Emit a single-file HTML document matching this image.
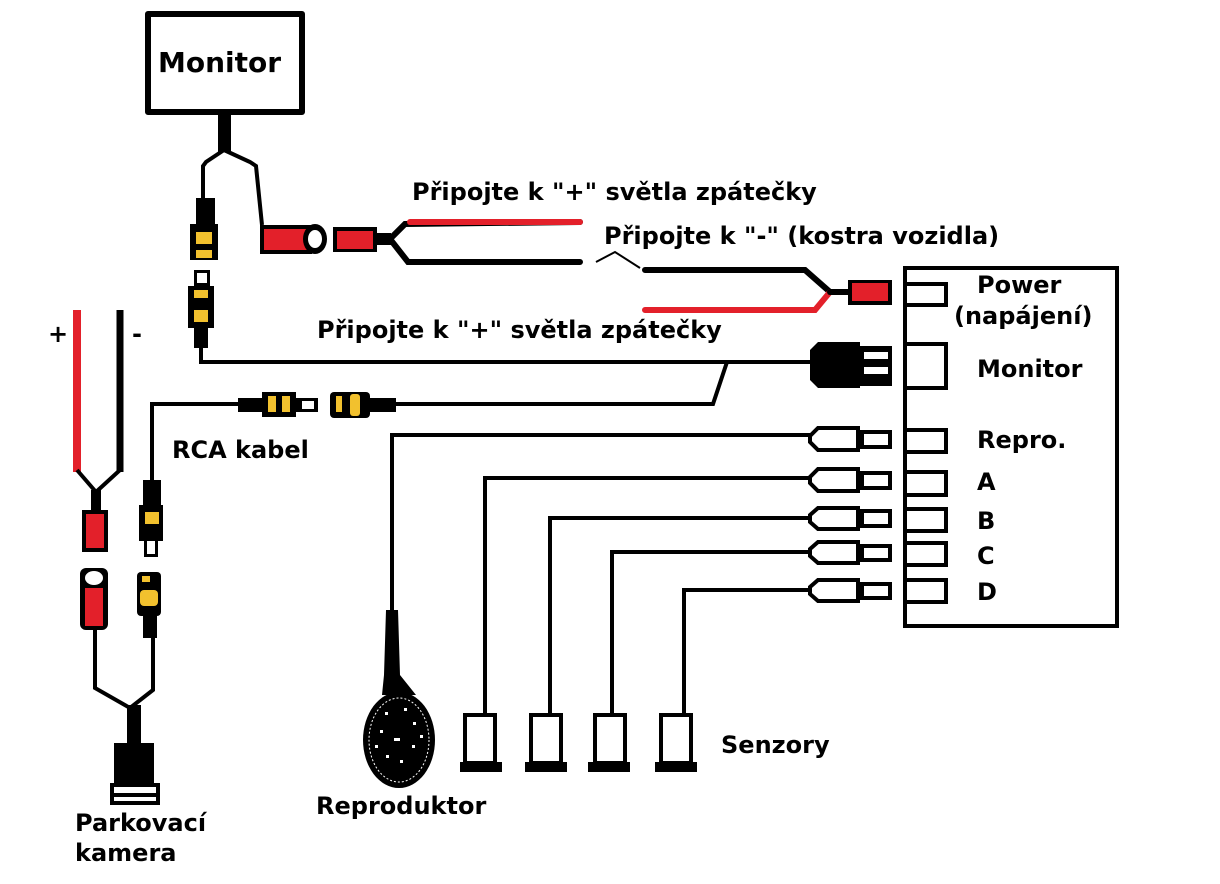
<!DOCTYPE html>
<html><head><meta charset="utf-8"><style>
html,body{margin:0;padding:0;background:#fff;}
svg{display:block;}
text{font-family:"DejaVu Sans","Liberation Sans",sans-serif;font-weight:bold;fill:#000;}
</style></head><body>
<svg width="1220" height="884" viewBox="0 0 1220 884" xmlns="http://www.w3.org/2000/svg">
<g fill="none" stroke="#000" stroke-width="4" stroke-linejoin="round">
<rect x="148" y="14" width="154" height="98" stroke-width="6"/>
</g>
<text x="158" y="72" font-size="28">Monitor</text>
<rect x="218" y="112" width="13" height="40" fill="#000"/>
<g fill="none" stroke="#000" stroke-width="4">
<polyline points="224,150 206,162 203,166 203,200"/>
<polyline points="224,150 250,162 256,166 262,225"/>
</g>
<rect x="196" y="198" width="19" height="26" fill="#000"/>
<rect x="190" y="224" width="28" height="36" fill="#000"/>
<rect x="196" y="232" width="16" height="12" fill="#f2c12e"/>
<rect x="196" y="250" width="16" height="8" fill="#f2c12e"/>
<rect x="194" y="270" width="16" height="16" fill="#000"/>
<rect x="197" y="273" width="10" height="10" fill="#fff"/>
<rect x="188" y="286" width="26" height="42" fill="#000"/>
<rect x="194" y="290" width="14" height="8" fill="#f2c12e"/>
<rect x="194" y="310" width="14" height="12" fill="#f2c12e"/>
<rect x="194" y="328" width="14" height="20" fill="#000"/>
<rect x="260" y="225" width="52" height="29" fill="#000"/>
<rect x="264" y="229" width="44" height="21" fill="#e3202a"/>
<ellipse cx="315" cy="239" rx="12" ry="15" fill="#000"/>
<ellipse cx="315" cy="239" rx="7" ry="9" fill="#fff"/>
<rect x="333" y="227" width="44" height="25" fill="#000"/>
<rect x="337" y="231" width="36" height="18" fill="#e3202a"/>
<rect x="377" y="233" width="14" height="12" fill="#000"/>
<g fill="none" stroke-width="6" stroke-linecap="round">
<polyline points="390,239 405,224 580,222" stroke="#000"/>
<line x1="410" y1="222" x2="580" y2="222" stroke="#e3202a"/>
<polyline points="390,239 408,262 580,262" stroke="#000"/>
<polyline points="645,270 805,270 830,292" stroke="#000"/>
<polyline points="645,310 815,310 830,292" stroke="#e3202a"/>
<line x1="830" y1="292" x2="850" y2="292" stroke="#000"/>
</g>
<rect x="848" y="280" width="44" height="25" fill="#000"/>
<rect x="852" y="283" width="36" height="18" fill="#e3202a"/>
<polyline points="596,262 615,252 640,268" fill="none" stroke="#000" stroke-width="2"/>
<text x="412" y="200" font-size="24">Připojte k "+" světla zpátečky</text>
<text x="604" y="244" font-size="24">Připojte k "-" (kostra vozidla)</text>
<text x="317" y="338" font-size="24">Připojte k "+" světla zpátečky</text>
<g fill="none" stroke="#000" stroke-width="4">
<polyline points="201,345 201,362 810,362"/>
<polyline points="727,362 713,404 390,404"/>
<polyline points="240,404 152,404 152,482"/>
</g>
<path d="M810,350 L818,342 L860,342 L860,388 L818,388 L810,380 Z" fill="#000"/>
<rect x="858" y="346" width="34" height="40" fill="#000"/>
<rect x="864" y="352" width="24" height="7" fill="#fff"/>
<rect x="864" y="367" width="24" height="7" fill="#fff"/>
<rect x="238" y="398" width="28" height="14" fill="#000"/>
<rect x="262" y="392" width="34" height="25" fill="#000"/>
<rect x="268" y="396" width="8" height="16" fill="#f2c12e"/>
<rect x="282" y="396" width="8" height="16" fill="#f2c12e"/>
<rect x="296" y="398" width="22" height="14" fill="#000"/>
<rect x="302" y="401" width="12" height="8" fill="#fff"/>
<rect x="330" y="392" width="40" height="26" rx="4" fill="#000"/>
<rect x="336" y="396" width="6" height="16" fill="#f2c12e"/>
<rect x="350" y="394" width="10" height="22" rx="3" fill="#f2c12e"/>
<rect x="368" y="398" width="28" height="14" fill="#000"/>
<text x="172" y="458" font-size="24">RCA kabel</text>
<rect x="905" y="268" width="212" height="358" fill="none" stroke="#000" stroke-width="4"/>
<g fill="none" stroke="#000" stroke-width="4">
<rect x="905" y="284" width="41" height="21"/>
<rect x="905" y="344" width="41" height="44"/>
<rect x="905" y="430" width="41" height="22"/>
<rect x="905" y="472" width="41" height="23"/>
<rect x="905" y="509" width="41" height="22"/>
<rect x="905" y="543" width="41" height="22"/>
<rect x="905" y="580" width="41" height="22"/>
</g>
<text x="977" y="293" font-size="24">Power</text>
<text x="954" y="324" font-size="24">(napájení)</text>
<text x="977" y="377" font-size="24">Monitor</text>
<text x="977" y="448" font-size="24">Repro.</text>
<text x="977" y="490" font-size="24">A</text>
<text x="977" y="529" font-size="24">B</text>
<text x="977" y="564" font-size="24">C</text>
<text x="977" y="600" font-size="24">D</text>
<g fill="none" stroke="#000" stroke-width="4">
<path d="M818,428 L858,428 L858,450 L818,450 L810,442 L810,436 Z"/>
<rect x="862" y="432" width="28" height="15"/>
<path d="M818,469 L858,469 L858,491 L818,491 L810,483 L810,477 Z"/>
<rect x="862" y="473" width="28" height="15"/>
<path d="M818,508 L858,508 L858,529 L818,529 L810,522 L810,515 Z"/>
<rect x="862" y="511" width="28" height="15"/>
<path d="M818,542 L858,542 L858,563 L818,563 L810,556 L810,549 Z"/>
<rect x="862" y="546" width="28" height="14"/>
<path d="M818,580 L858,580 L858,601 L818,601 L810,594 L810,587 Z"/>
<rect x="862" y="584" width="28" height="14"/>
<polyline points="810,435 392,435 392,615"/>
<polyline points="810,478 485,478 485,715"/>
<polyline points="810,518 550,518 550,715"/>
<polyline points="810,552 612,552 612,715"/>
<polyline points="810,590 684,590 684,715"/>
<rect x="465" y="715" width="30" height="48"/>
<rect x="531" y="715" width="30" height="48"/>
<rect x="595" y="715" width="30" height="48"/>
<rect x="661" y="715" width="30" height="48"/>
</g>
<rect x="460" y="762" width="42" height="10" fill="#000"/>
<rect x="525" y="762" width="42" height="10" fill="#000"/>
<rect x="588" y="762" width="42" height="10" fill="#000"/>
<rect x="655" y="762" width="42" height="10" fill="#000"/>
<text x="721" y="753" font-size="24">Senzory</text>
<path d="M386,610 L398,610 L400,675 L416,695 L382,695 L384,675 Z" fill="#000"/>
<ellipse cx="399" cy="740" rx="36" ry="48" fill="#000"/>
<ellipse cx="399" cy="740" rx="30" ry="42" fill="none" stroke="#fff" stroke-width="1" stroke-dasharray="2,2"/>
<g fill="#fff">
<rect x="385" y="712" width="3" height="3"/><rect x="404" y="708" width="3" height="3"/>
<rect x="413" y="722" width="3" height="3"/><rect x="380" y="730" width="3" height="3"/>
<rect x="394" y="738" width="6" height="3"/><rect x="412" y="745" width="3" height="3"/>
<rect x="386" y="755" width="3" height="3"/><rect x="400" y="760" width="3" height="3"/>
<rect x="375" y="745" width="3" height="3"/><rect x="420" y="735" width="3" height="3"/>
</g>
<text x="316" y="814" font-size="24">Reproduktor</text>
<line x1="77" y1="310" x2="77" y2="472" stroke="#e3202a" stroke-width="8"/>
<line x1="120" y1="310" x2="120" y2="472" stroke="#000" stroke-width="7"/>
<g fill="none" stroke="#000" stroke-width="4">
<polyline points="77,470 96,492 120,470"/>
<polyline points="95,628 95,688 130,708 153,690 153,635"/>
</g>
<text x="48" y="342" font-size="24">+</text>
<text x="132" y="342" font-size="24">-</text>
<rect x="91" y="490" width="10" height="22" fill="#000"/>
<rect x="82" y="510" width="26" height="42" fill="#000"/>
<rect x="86" y="514" width="18" height="34" fill="#e3202a"/>
<rect x="80" y="568" width="28" height="62" rx="6" fill="#000"/>
<ellipse cx="94" cy="578" rx="9" ry="7" fill="#fff"/>
<rect x="85" y="588" width="18" height="38" fill="#e3202a"/>
<rect x="143" y="480" width="18" height="30" fill="#000"/>
<rect x="139" y="505" width="24" height="36" fill="#000"/>
<rect x="145" y="512" width="14" height="12" fill="#f2c12e"/>
<rect x="144" y="539" width="14" height="18" fill="#000"/>
<rect x="147" y="541" width="8" height="13" fill="#fff"/>
<rect x="137" y="572" width="24" height="44" rx="4" fill="#000"/>
<rect x="142" y="576" width="8" height="6" fill="#f2c12e"/>
<rect x="140" y="590" width="18" height="16" rx="4" fill="#f2c12e"/>
<rect x="143" y="616" width="14" height="22" fill="#000"/>
<rect x="127" y="705" width="14" height="40" fill="#000"/>
<rect x="114" y="743" width="40" height="42" fill="#000"/>
<rect x="110" y="783" width="50" height="22" fill="#000"/>
<rect x="114" y="787" width="42" height="6" fill="#fff"/>
<rect x="114" y="797" width="42" height="4" fill="#fff"/>
<text x="75" y="831" font-size="24">Parkovací</text>
<text x="75" y="861" font-size="24">kamera</text>
</svg>
</body></html>
